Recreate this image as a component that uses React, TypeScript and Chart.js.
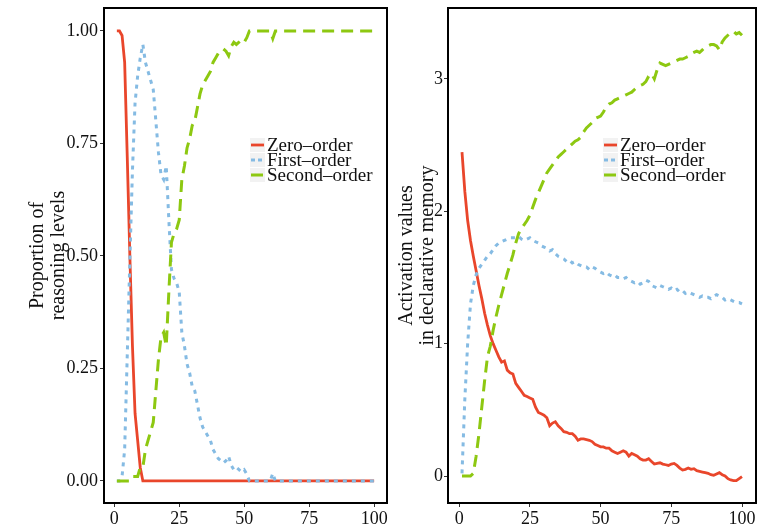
import React, { useEffect, useRef } from "react";
import { Chart, registerables } from "chart.js";

Chart.register(...registerables);

// ---------- data ----------
const trials: number[] = Array.from({ length: 100 }, (_, i) => i + 1);

const xTicks = [0, 25, 50, 75, 100];
const xTickLabels = ["0", "25", "50", "75", "100"];

const leftYTicks = [0, 0.25, 0.5, 0.75, 1];
const leftYTickLabels = ["0.00", "0.25", "0.50", "0.75", "1.00"];

const rightYTicks = [0, 1, 2, 3];
const rightYTickLabels = ["0", "1", "2", "3"];

const seriesNames = ["Zero–order", "First–order", "Second–order"];

// proportion of reasoning levels (left panel)
const propZero = [
  1, 1, 0.99, 0.93, 0.72, 0.5, 0.3, 0.15, 0.09, 0.03,
  0, 0, 0, 0, 0, 0, 0, 0, 0, 0,
  0, 0, 0, 0, 0, 0, 0, 0, 0, 0,
  0, 0, 0, 0, 0, 0, 0, 0, 0, 0,
  0, 0, 0, 0, 0, 0, 0, 0, 0, 0,
  0, 0, 0, 0, 0, 0, 0, 0, 0, 0,
  0, 0, 0, 0, 0, 0, 0, 0, 0, 0,
  0, 0, 0, 0, 0, 0, 0, 0, 0, 0,
  0, 0, 0, 0, 0, 0, 0, 0, 0, 0,
  0, 0, 0, 0, 0, 0, 0, 0, 0, 0,
];
const propFirst = [
  0, 0, 0.01, 0.07, 0.28, 0.49, 0.69, 0.84, 0.9, 0.94,
  0.97, 0.93, 0.91, 0.89, 0.87, 0.8, 0.73, 0.68, 0.67, 0.7,
  0.58, 0.47, 0.45, 0.44, 0.42, 0.33, 0.3, 0.26, 0.24, 0.21,
  0.2, 0.17, 0.14, 0.12, 0.11, 0.1, 0.09, 0.07, 0.06, 0.05,
  0.045, 0.04, 0.045, 0.055, 0.035, 0.025, 0.03, 0.025, 0.02, 0.025,
  0.015, 0, 0, 0, 0, 0, 0, 0, 0, 0,
  0.017, 0, 0, 0, 0, 0, 0, 0, 0, 0,
  0, 0, 0, 0, 0, 0, 0, 0, 0, 0,
  0, 0, 0, 0, 0, 0, 0, 0, 0, 0,
  0, 0, 0, 0, 0, 0, 0, 0, 0, 0,
];
const propSecond = [
  0, 0, 0, 0, 0, 0, 0.01, 0.01, 0.01, 0.03,
  0.03, 0.07, 0.09, 0.11, 0.13, 0.2, 0.27, 0.32, 0.33, 0.3,
  0.42, 0.53, 0.55, 0.56, 0.58, 0.67, 0.7, 0.74, 0.76, 0.79,
  0.8, 0.83, 0.86, 0.88, 0.89, 0.9, 0.91, 0.93, 0.94, 0.95,
  0.955, 0.96, 0.955, 0.945, 0.965, 0.975, 0.97, 0.975, 0.98, 0.975,
  0.985, 1, 1, 1, 1, 1, 1, 1, 1, 1,
  0.983, 1, 1, 1, 1, 1, 1, 1, 1, 1,
  1, 1, 1, 1, 1, 1, 1, 1, 1, 1,
  1, 1, 1, 1, 1, 1, 1, 1, 1, 1,
  1, 1, 1, 1, 1, 1, 1, 1, 1, 1,
];

// activation values in declarative memory (right panel)
const actZero = [
  2.447, 2.15, 1.93, 1.78, 1.66, 1.55, 1.44, 1.34, 1.23, 1.14,
  1.06, 1.0, 0.95, 0.9, 0.86, 0.87, 0.8, 0.78, 0.77, 0.7,
  0.67, 0.64, 0.61, 0.6, 0.59, 0.58, 0.52, 0.48, 0.47, 0.46,
  0.44, 0.38, 0.4, 0.41, 0.38, 0.36, 0.335, 0.33, 0.32, 0.32,
  0.3, 0.27, 0.28, 0.28, 0.275, 0.27, 0.26, 0.24, 0.23, 0.22,
  0.22, 0.21, 0.21, 0.19, 0.18, 0.17, 0.18, 0.19, 0.18, 0.15,
  0.17, 0.16, 0.15, 0.13, 0.12, 0.12, 0.13, 0.11, 0.09, 0.095,
  0.1, 0.09, 0.085, 0.08, 0.09, 0.095, 0.08, 0.06, 0.045, 0.05,
  0.06, 0.05, 0.055, 0.04, 0.035, 0.03, 0.025, 0.02, 0.01, 0.005,
  0.015, 0.025, 0.01, 0.0, -0.02, -0.03, -0.035, -0.035, -0.02, -0.005,
];
const actFirst = [
  0.02, 0.58, 1.0, 1.3, 1.44, 1.52, 1.57, 1.6, 1.63, 1.66,
  1.68, 1.71, 1.74, 1.76, 1.77, 1.78, 1.79, 1.8, 1.8, 1.8,
  1.81, 1.79, 1.78, 1.79, 1.8, 1.78, 1.77, 1.76, 1.74, 1.73,
  1.72, 1.7, 1.71, 1.68, 1.66, 1.65, 1.64, 1.62, 1.63, 1.61,
  1.62, 1.6, 1.59, 1.58, 1.58, 1.56, 1.58, 1.57, 1.55, 1.54,
  1.53, 1.54, 1.52, 1.51, 1.52, 1.5, 1.5, 1.49, 1.5, 1.48,
  1.47, 1.46, 1.47, 1.45, 1.46, 1.48, 1.47, 1.44, 1.43, 1.42,
  1.44, 1.43, 1.42, 1.41, 1.42, 1.4, 1.41, 1.39, 1.4, 1.38,
  1.39, 1.38, 1.37, 1.36, 1.35, 1.36, 1.35, 1.35, 1.34, 1.36,
  1.37, 1.36, 1.35, 1.33, 1.34, 1.33, 1.32, 1.31, 1.31, 1.3,
];
const actSecond = [
  0, 0, 0, 0, 0.02, 0.15, 0.32, 0.52, 0.72, 0.9,
  0.98, 1.1, 1.2, 1.29, 1.37, 1.45, 1.53, 1.6, 1.67, 1.76,
  1.83, 1.87, 1.9, 1.93, 1.97, 2.03, 2.09, 2.14, 2.19, 2.24,
  2.29, 2.32, 2.35, 2.38, 2.41, 2.43, 2.45, 2.47, 2.49, 2.51,
  2.53, 2.54, 2.56, 2.6, 2.63, 2.65, 2.67, 2.7, 2.71, 2.72,
  2.75, 2.79, 2.81, 2.82, 2.84, 2.85, 2.86, 2.87, 2.88, 2.89,
  2.9, 2.92, 2.94, 2.95, 2.96, 2.98, 3.02, 3.04, 3.0, 3.07,
  3.12, 3.11, 3.1, 3.11, 3.12, 3.13, 3.14, 3.15, 3.15, 3.16,
  3.17, 3.19, 3.2, 3.21, 3.2, 3.22, 3.24, 3.25, 3.26, 3.26,
  3.25, 3.22, 3.28, 3.31, 3.33, 3.35, 3.36, 3.34, 3.35, 3.33,
];

// ---------- styles ----------
const FONT = "'Liberation Serif', 'DejaVu Serif', serif";
const RED = "#E9462B";
const BLUE = "#85BBE3";
const GREEN = "#8DC811";
const colors = [RED, BLUE, GREEN];
const dashes: number[][] = [[], [4, 5], [12, 7]];
const widths = [2.8, 3, 3];

const panelPlugin = {
  id: "panelBox",
  afterDatasetsDraw(chart: any, _args: any, opts: any) {
    const { ctx, chartArea: a } = chart;
    ctx.save();
    ctx.strokeStyle = "#000";
    ctx.lineWidth = 2;
    ctx.setLineDash([]);
    ctx.strokeRect(a.left, a.top, a.right - a.left, a.bottom - a.top);

    // legend
    const lx = opts.lx as number;
    const ly = opts.ly as number;
    const rowH = 15;
    const keyW = 15;
    ctx.fillStyle = "#F2F2F2";
    for (let i = 0; i < seriesNames.length; i++) {
      ctx.fillRect(lx, ly + i * rowH - rowH / 2 + 0.5, keyW, rowH - 1);
    }
    for (let i = 0; i < seriesNames.length; i++) {
      const cy = ly + i * rowH;
      ctx.beginPath();
      ctx.strokeStyle = colors[i];
      ctx.lineWidth = widths[i];
      ctx.setLineDash(i === 1 ? [4, 3] : i === 2 ? [12, 4] : []);
      ctx.moveTo(lx + 1, cy);
      ctx.lineTo(lx + keyW - 1, cy);
      ctx.stroke();
    }
    ctx.setLineDash([]);
    ctx.fillStyle = "#111";
    ctx.font = `19px ${FONT}`;
    ctx.textBaseline = "middle";
    ctx.textAlign = "left";
    for (let i = 0; i < seriesNames.length; i++) {
      ctx.fillText(seriesNames[i], lx + keyW + 2, ly + i * rowH + 1);
    }
    ctx.restore();
  },
};

function makeConfig(opts: {
  series: number[][];
  yMin: number;
  yMax: number;
  yTicks: number[];
  yTickLabels: string[];
  yTitle: string[];
  yAxisWidth: number;
  titlePad: number;
  tickPad: number;
  lx: number;
  ly: number;
  padRight: number;
}) {
  return {
    type: "line" as const,
    data: {
      datasets: opts.series.map((vals, i) => ({
        label: seriesNames[i],
        data: vals.map((v, j) => ({ x: trials[j], y: v })),
        borderColor: colors[i],
        backgroundColor: colors[i],
        borderWidth: widths[i],
        borderDash: dashes[i],
        pointRadius: 0,
        tension: 0,
        fill: false,
        order: 3 - i,
      })),
    },
    options: {
      responsive: false,
      animation: false,
      devicePixelRatio: 1,
      layout: { padding: { left: 0, right: opts.padRight, top: 8, bottom: 0 } },
      plugins: {
        legend: { display: false },
        tooltip: { enabled: false },
        panelBox: { lx: opts.lx, ly: opts.ly },
      },
      scales: {
        x: {
          type: "linear",
          min: -3.95,
          max: 104.95,
          afterBuildTicks: (s: any) => {
            s.ticks = xTicks.map((v) => ({ value: v }));
          },
          afterFit: (s: any) => {
            s.height = 25;
            s.paddingLeft = 0;
            s.paddingRight = 0;
          },
          grid: {
            drawOnChartArea: false,
            drawTicks: true,
            tickLength: 4,
            color: "#333",
            lineWidth: 1,
          },
          border: { display: false },
          ticks: {
            autoSkip: false,
            maxRotation: 0,
            padding: 1,
            color: "#111",
            font: { family: FONT, size: 18 },
            callback: (_v: any, i: number) => xTickLabels[i],
          },
        },
        y: {
          type: "linear",
          min: opts.yMin,
          max: opts.yMax,
          afterBuildTicks: (s: any) => {
            s.ticks = opts.yTicks.map((v) => ({ value: v }));
          },
          afterFit: (s: any) => {
            s.width = opts.yAxisWidth;
            s.paddingTop = 0;
            s.paddingBottom = 0;
          },
          grid: {
            drawOnChartArea: false,
            drawTicks: true,
            tickLength: 4,
            color: "#333",
            lineWidth: 1,
          },
          border: { display: false },
          ticks: {
            autoSkip: false,
            padding: opts.tickPad,
            color: "#111",
            font: { family: FONT, size: 18 },
            callback: (_v: any, i: number) => opts.yTickLabels[i],
          },
          title: {
            display: true,
            text: opts.yTitle,
            color: "#111",
            font: { family: FONT, size: 20, lineHeight: 1.05 },
            padding: { top: opts.titlePad, bottom: 0 },
          },
        },
      },
    },
    plugins: [panelPlugin],
  };
}

function Panel(props: { width: number; height: number; left: number; config: any }) {
  const ref = useRef<HTMLCanvasElement | null>(null);
  useEffect(() => {
    if (!ref.current) return;
    const chart = new Chart(ref.current, props.config);
    return () => chart.destroy();
  }, []);
  return (
    <canvas
      ref={ref}
      width={props.width}
      height={props.height}
      style={{ position: "absolute", left: props.left, top: 0, width: props.width, height: props.height }}
    />
  );
}

export default function App() {
  const leftConfig = makeConfig({
    series: [propZero, propFirst, propSecond],
    yMin: -0.049,
    yMax: 1.051,
    yTicks: leftYTicks,
    yTickLabels: leftYTickLabels,
    yTitle: ["Proportion of", "reasoning levels"],
    yAxisWidth: 104,
    titlePad: 27,
    tickPad: 2,
    lx: 250,
    ly: 145,
    padRight: 5,
  });
  const rightConfig = makeConfig({
    series: [actZero, actFirst, actSecond],
    yMin: -0.204,
    yMax: 3.536,
    yTicks: rightYTicks,
    yTickLabels: rightYTickLabels,
    yTitle: ["Activation values", "in declarative memory"],
    yAxisWidth: 56,
    titlePad: 4,
    tickPad: 1,
    lx: 211,
    ly: 145,
    padRight: 2,
  });
  return (
    <div style={{ position: "absolute", left: 0, top: 0, width: 758, height: 528, background: "#fff" }}>
      <Panel width={392} height={528} left={0} config={leftConfig} />
      <Panel width={366} height={528} left={392} config={rightConfig} />
    </div>
  );
}
